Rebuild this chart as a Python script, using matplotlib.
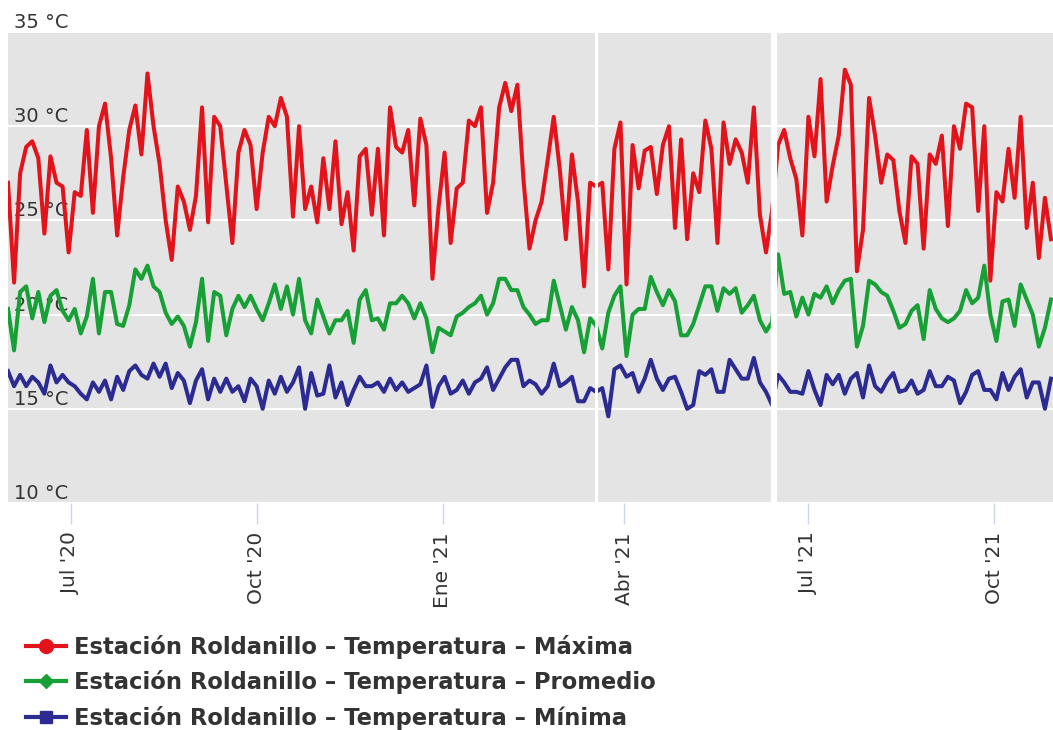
import matplotlib
matplotlib.use("Agg")
import matplotlib.pyplot as plt
from matplotlib.lines import Line2D
import pandas as pd

# readings every 3 days, Estación Roldanillo
start_date = "2020-05-31"
step_days = 3

t_max = [27.0, 21.7, 27.5, 28.9, 29.2, 28.3, 24.3, 28.4, 27.0, 26.8, 23.3, 26.5, 26.3, 29.8, 25.4,
         30.0, 31.2, 28.3, 24.2, 27.3, 29.8, 31.1, 28.5, 32.8, 30.0, 28.0, 25.0, 22.9, 26.8,
         26.0, 24.5, 26.3, 31.0, 24.9, 30.5, 30.0, 26.9, 23.8, 28.6, 29.8, 29.0, 25.6, 28.6, 30.5,
         30.0, 31.5, 30.5, 25.2, 30.0, 25.6, 26.8, 24.9, 28.3, 25.6, 29.2, 24.8, 26.5, 23.4,
         28.4, 28.8, 25.3, 28.8, 24.2, 31.0, 28.9, 28.6, 29.8, 25.8, 30.4, 29.0, 21.9, 25.7, 28.6,
         23.8, 26.7, 27.0, 30.3, 30.0, 31.0, 25.4, 27.0, 31.0, 32.3, 30.8, 32.2, 27.2, 23.5,
         25.0, 26.0, 28.2, 30.5, 27.7, 24.0, 28.5, 26.0, 21.5, 27.0, 26.8, 27.0, 22.4, 28.8,
         30.2, 21.6, 29.0, 26.7, 28.7, 28.9, 26.4, 29.0, 30.0, 24.6, 29.3, 24.0, 27.5, 26.5,
         30.3, 28.8, 23.8, 30.2, 28.0, 29.3, 28.6, 27.0, 31.0, 25.3, 23.3, 25.5, 29.0, 29.8, 28.3,
         27.2, 24.2, 30.5, 28.4, 32.5, 26.0, 27.9, 29.5, 33.0, 32.2, 22.3, 24.5, 31.5, 29.5,
         27.0, 28.5, 28.2, 25.5, 23.8, 28.4, 28.0, 23.5, 28.5, 28.0, 29.5, 24.7, 30.0, 28.8, 31.2,
         31.0, 25.5, 30.0, 21.8, 26.5, 26.0, 28.8, 26.2, 30.5, 24.6, 27.0, 23.0, 26.2, 24.0]

t_prom = [20.3, 18.1, 21.2, 21.5, 19.8, 21.2, 19.6, 21.0, 21.3, 20.2, 19.7, 20.3, 19.0, 19.9, 21.9,
          19.0, 21.2, 21.2, 19.5, 19.4, 20.5, 22.4, 21.9, 22.6, 21.5, 21.2, 20.1, 19.5, 19.9,
          19.4, 18.3, 19.6, 21.9, 18.6, 21.2, 21.0, 18.9, 20.3, 21.0, 20.4, 21.0, 20.3, 19.7, 20.6,
          21.6, 20.3, 21.5, 20.0, 21.9, 19.7, 19.0, 20.8, 19.9, 19.0, 19.7, 19.7, 20.2, 18.5,
          20.8, 21.3, 19.7, 19.8, 19.2, 20.6, 20.6, 21.0, 20.6, 19.8, 20.6, 19.8, 18.0, 19.3, 19.1,
          18.9, 19.9, 20.1, 20.4, 20.6, 21.0, 20.0, 20.6, 21.9, 21.9, 21.3, 21.3, 20.4, 20.0,
          19.5, 19.7, 19.7, 21.8, 20.5, 19.2, 20.4, 19.7, 18.0, 19.8, 19.4, 18.2, 20.1, 21.0,
          21.5, 17.8, 20.0, 20.3, 20.3, 22.0, 21.2, 20.5, 21.3, 20.7, 18.9, 18.9, 19.5, 20.5,
          21.5, 21.5, 20.2, 21.4, 21.1, 21.4, 20.1, 20.5, 21.0, 19.7, 19.1, 19.6, 23.2, 21.1, 21.2,
          19.9, 20.9, 20.0, 21.1, 20.9, 21.5, 20.6, 21.3, 21.8, 21.9, 18.3, 19.4, 21.8, 21.6,
          21.2, 21.0, 20.2, 19.3, 19.5, 20.2, 20.5, 18.7, 21.3, 20.3, 19.8, 19.6, 19.8, 20.2, 21.3,
          20.6, 20.9, 22.6, 20.0, 18.6, 20.7, 20.8, 19.4, 21.6, 20.8, 20.0, 18.3, 19.3, 20.8]

t_min = [17.0, 16.2, 16.8, 16.2, 16.7, 16.4, 15.8, 17.3, 16.4, 16.8, 16.4, 16.2, 15.8, 15.5, 16.4,
         15.9, 16.5, 15.5, 16.7, 16.0, 17.0, 17.3, 16.8, 16.6, 17.4, 16.7, 17.4, 16.1, 16.9,
         16.5, 15.3, 16.5, 17.1, 15.5, 16.6, 15.9, 16.6, 15.9, 16.2, 15.4, 16.6, 16.2, 15.0, 16.5,
         15.8, 16.7, 15.9, 16.4, 17.2, 15.0, 16.9, 15.7, 15.8, 17.3, 15.6, 16.4, 15.2, 16.0,
         16.7, 16.2, 16.2, 16.4, 15.9, 16.6, 16.0, 16.4, 15.9, 16.1, 16.3, 17.3, 15.1, 16.2, 16.7,
         15.8, 16.0, 16.5, 15.8, 16.4, 16.6, 17.2, 16.0, 16.6, 17.2, 17.6, 17.6, 16.2, 16.5,
         16.3, 15.8, 16.2, 17.4, 16.2, 16.4, 16.7, 15.4, 15.4, 16.1, 15.9, 16.1, 14.6, 17.1,
         17.3, 16.7, 16.9, 15.9, 16.6, 17.6, 16.6, 16.0, 16.6, 16.7, 15.9, 15.0, 15.2, 17.0,
         16.8, 17.1, 15.9, 15.9, 17.6, 17.1, 16.6, 16.6, 17.7, 16.4, 15.9, 15.2, 16.8, 16.4, 15.9,
         15.9, 15.8, 17.0, 16.0, 15.2, 16.8, 16.3, 16.8, 15.8, 16.6, 16.9, 15.6, 17.3, 16.2,
         15.9, 16.5, 16.9, 15.9, 16.0, 16.5, 15.8, 16.0, 17.0, 16.2, 16.2, 16.7, 16.5, 15.3, 15.9,
         16.8, 17.0, 16.0, 16.0, 15.5, 16.9, 16.0, 16.7, 17.1, 15.6, 16.4, 16.4, 15.0, 16.6]

series_names = ["Estación Roldanillo – Temperatura – Máxima",
                "Estación Roldanillo – Temperatura – Promedio",
                "Estación Roldanillo – Temperatura – Mínima"]
colors = ["#e3131b", "#17a035", "#2b2b92"]

y_ticks = [10, 15, 20, 25, 30, 35]
y_labels = ["10 °C", "15 °C", "20 °C", "25 °C", "30 °C", "35 °C"]
x_tick_dates = ["2020-07-01", "2020-10-01", "2021-01-01", "2021-04-01", "2021-07-01", "2021-10-01"]
x_labels = ["Jul '20", "Oct '20", "Ene '21", "Abr '21", "Jul '21", "Oct '21"]
break_dates = ["2021-03-18", "2021-06-14"]  # white markers on the plot band

dates = pd.date_range(start_date, periods=len(t_max), freq=f"{step_days}D")

fig = plt.figure(figsize=(10.53, 7.30), dpi=100)
ax = fig.add_axes([8 / 1053, 1 - 503 / 730, 1 - 8 / 1053, (503 - 32) / 730])
ax.set_facecolor("#e4e4e4")

for vals, c in zip([t_max, t_prom, t_min], colors):
    ax.plot(dates, vals, color=c, lw=2.9, solid_joinstyle="round", zorder=2)

ax.axvline(pd.Timestamp(break_dates[0]), color="white", lw=2.2, zorder=3)
ax.axvline(pd.Timestamp(break_dates[1]), color="white", lw=4.5, zorder=3)

ax.set_ylim(10, 35)
ax.set_xlim(pd.Timestamp("2020-05-31"), pd.Timestamp("2021-10-30"))

ax.set_yticks(y_ticks)
ax.set_yticklabels(y_labels)
ax.yaxis.grid(True, color="white", lw=1.5)
ax.set_axisbelow(True)
ax.tick_params(axis="y", length=0, pad=-4, labelsize=14, labelcolor="#333333")
for lab in ax.get_yticklabels():
    lab.set_horizontalalignment("left")
    lab.set_verticalalignment("bottom")

ax.set_xticks([pd.Timestamp(d) for d in x_tick_dates])
ax.set_xticklabels(x_labels, rotation=90, va="top", ha="center")
ax.tick_params(axis="x", length=15, width=1, color="#ccd6eb", pad=6,
               labelsize=14.5, labelcolor="#333333")

for s in ax.spines.values():
    s.set_visible(False)

# legend: line + marker handles
handles = [
    Line2D([], [], color=colors[0], lw=3, marker="o", ms=10),
    Line2D([], [], color=colors[1], lw=3, marker="D", ms=7.5),
    Line2D([], [], color=colors[2], lw=3, marker="s", ms=9),
]
leg = fig.legend(handles, series_names, loc="upper left", bbox_to_anchor=(0.005, 0.158),
                 frameon=False, handlelength=1.8, handletextpad=0.35, labelspacing=0.5,
                 prop={"size": 16.3, "weight": "bold"})
for txt in leg.get_texts():
    txt.set_color("#333333")

fig.savefig("out.png", dpi=100)
